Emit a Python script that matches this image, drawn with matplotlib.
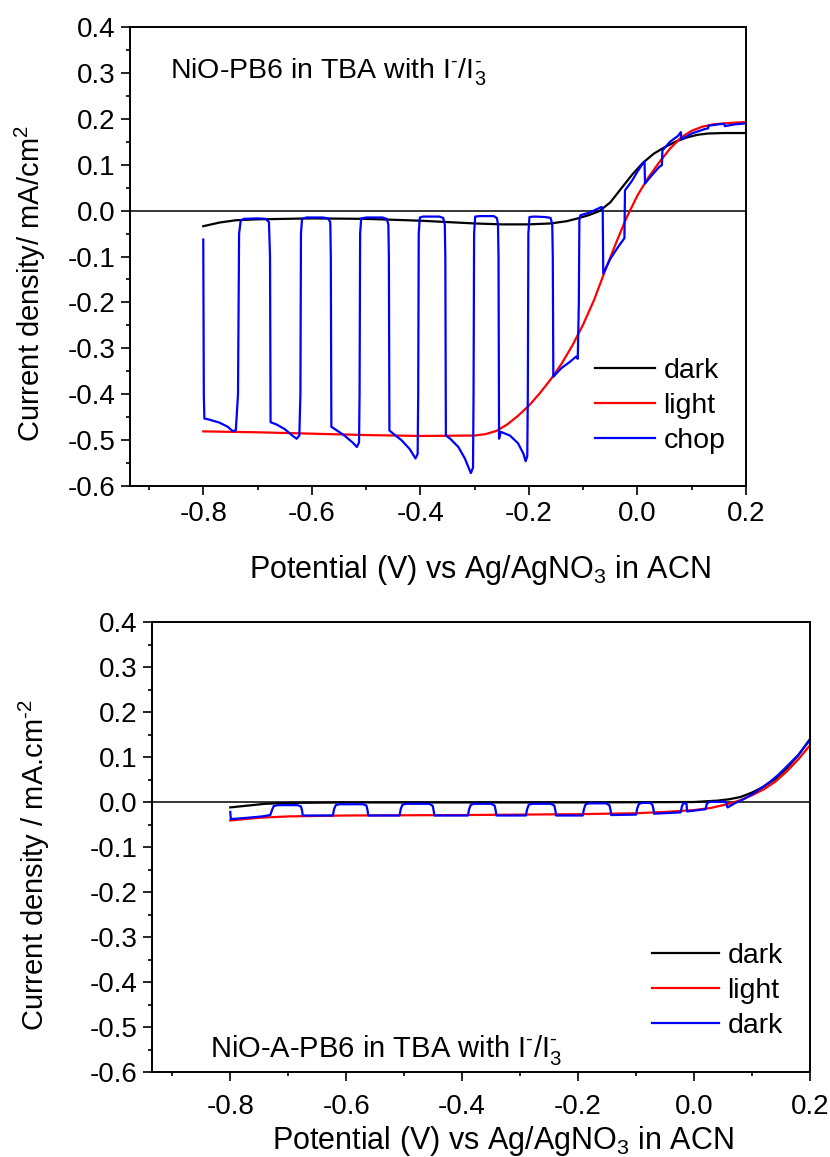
import matplotlib
matplotlib.use("Agg")
import matplotlib.pyplot as plt
from matplotlib.ticker import MultipleLocator, FormatStrFormatter

plt.rcParams['font.family'] = ['Liberation Sans', 'DejaVu Sans']
plt.rcParams['mathtext.fontset'] = 'custom'
plt.rcParams['mathtext.rm'] = 'Liberation Sans'
plt.rcParams['mathtext.it'] = 'Liberation Sans:italic'
plt.rcParams['axes.unicode_minus'] = False

# ---- top panel: NiO-PB6 ----
dark1_x = [-0.80, -0.77, -0.74, -0.70, -0.65, -0.60, -0.50, -0.40, -0.30, -0.25, -0.20,
           -0.16, -0.13, -0.11, -0.09, -0.07, -0.05, -0.03, -0.01, 0.01, 0.03,
           0.05, 0.07, 0.09, 0.11, 0.13, 0.16, 0.20]
dark1_y = [-0.034, -0.026, -0.021, -0.019, -0.018, -0.017, -0.018, -0.022, -0.028, -0.030, -0.030,
           -0.028, -0.023, -0.017, -0.010, -0.001, 0.018, 0.048, 0.078, 0.104, 0.124,
           0.138, 0.150, 0.159, 0.165, 0.168, 0.169, 0.169]

light1_x = [-0.80, -0.70, -0.60, -0.50, -0.40, -0.30, -0.28, -0.26, -0.24, -0.22, -0.20,
            -0.18, -0.16, -0.14, -0.12, -0.10, -0.08, -0.06, -0.04, -0.02, 0.00,
            0.02, 0.04, 0.06, 0.08, 0.10, 0.12, 0.14, 0.17, 0.20]
light1_y = [-0.481, -0.483, -0.486, -0.489, -0.491, -0.490, -0.487, -0.480, -0.466, -0.447, -0.425,
            -0.398, -0.368, -0.334, -0.294, -0.248, -0.195, -0.132, -0.072, -0.015, 0.033,
            0.072, 0.105, 0.135, 0.159, 0.174, 0.183, 0.188, 0.191, 0.193]

chop1_x = [-0.800, -0.799, -0.798,
           -0.790, -0.770, -0.755, -0.745, -0.740,
           -0.736, -0.734, -0.731, -0.725, -0.700, -0.685, -0.679, -0.677,
           -0.676, -0.665, -0.650, -0.635, -0.628, -0.623,
           -0.621, -0.620, -0.618, -0.610, -0.580, -0.570, -0.566, -0.565,
           -0.564, -0.555, -0.540, -0.525, -0.517, -0.513,
           -0.512, -0.511, -0.509, -0.500, -0.470, -0.462, -0.459, -0.458,
           -0.457, -0.450, -0.435, -0.420, -0.409, -0.405,
           -0.404, -0.403, -0.401, -0.395, -0.365, -0.358, -0.355, -0.354,
           -0.353, -0.345, -0.330, -0.318, -0.307, -0.303,
           -0.302, -0.301, -0.299, -0.290, -0.265, -0.259, -0.257, -0.256,
           -0.255, -0.252, -0.235, -0.220, -0.210, -0.206, -0.203,
           -0.202, -0.201, -0.199, -0.190, -0.170, -0.160, -0.157, -0.156,
           -0.155, -0.140, -0.125, -0.113, -0.110,
           -0.108, -0.107, -0.105, -0.090, -0.075, -0.066, -0.064,
           -0.063, -0.050, -0.035, -0.027, -0.024,
           -0.023, -0.010, 0.000, 0.010, 0.013,
           0.014, 0.025, 0.040, 0.045,
           0.046, 0.060, 0.075, 0.080,
           0.081, 0.100, 0.125, 0.130,
           0.131, 0.150, 0.160,
           0.161, 0.180, 0.200]
chop1_y = [-0.063, -0.400, -0.453,
           -0.455, -0.462, -0.471, -0.481, -0.478,
           -0.400, -0.050, -0.022, -0.018, -0.017, -0.018, -0.025, -0.100,
           -0.461, -0.466, -0.476, -0.491, -0.497, -0.490,
           -0.400, -0.050, -0.018, -0.015, -0.015, -0.017, -0.025, -0.100,
           -0.471, -0.478, -0.490, -0.505, -0.515, -0.505,
           -0.400, -0.050, -0.017, -0.015, -0.015, -0.018, -0.030, -0.100,
           -0.479, -0.486, -0.500, -0.519, -0.540, -0.530,
           -0.400, -0.050, -0.015, -0.013, -0.013, -0.016, -0.030, -0.100,
           -0.490, -0.497, -0.515, -0.540, -0.572, -0.560,
           -0.400, -0.050, -0.013, -0.012, -0.012, -0.016, -0.030, -0.100,
           -0.497, -0.482, -0.490, -0.507, -0.530, -0.546, -0.535,
           -0.400, -0.050, -0.014, -0.013, -0.014, -0.016, -0.030, -0.100,
           -0.362, -0.343, -0.330, -0.318, -0.323,
           -0.200, -0.020, -0.010, -0.005, 0.003, 0.008, 0.000,
           -0.137, -0.105, -0.078, -0.065, -0.060,
           0.044, 0.065, 0.085, 0.103, 0.107,
           0.059, 0.075, 0.095, 0.099,
           0.131, 0.150, 0.163, 0.171,
           0.155, 0.168, 0.178, 0.179,
           0.185, 0.188, 0.189,
           0.184, 0.188, 0.190]

# ---- bottom panel: NiO-A-PB6 ----
dark2_x = [-0.80, -0.77, -0.74, -0.70, -0.60, -0.40, -0.20, 0.00, 0.04, 0.06, 0.08,
           0.10, 0.12, 0.14, 0.16, 0.18, 0.20]
dark2_y = [-0.012, -0.008, -0.004, -0.002, -0.001, -0.001, -0.001, 0.000, 0.003, 0.006, 0.011,
           0.021, 0.034, 0.051, 0.075, 0.104, 0.140]

light2_x = [-0.80, -0.75, -0.70, -0.60, -0.40, -0.20, -0.10, -0.05, 0.00, 0.03, 0.06,
            0.08, 0.10, 0.12, 0.14, 0.16, 0.18, 0.20]
light2_y = [-0.041, -0.035, -0.032, -0.030, -0.029, -0.027, -0.025, -0.022, -0.018, -0.013, -0.004,
            0.004, 0.015, 0.028, 0.045, 0.068, 0.095, 0.126]

chop2_x = [-0.800, -0.799, -0.770, -0.745, -0.731, -0.728, -0.725, -0.718,
           -0.684, -0.678, -0.676, -0.675,
           -0.623, -0.621, -0.618, -0.612,
           -0.571, -0.565, -0.563, -0.562,
           -0.508, -0.506, -0.503, -0.497,
           -0.457, -0.451, -0.449, -0.448,
           -0.390, -0.388, -0.385, -0.379,
           -0.350, -0.344, -0.342, -0.341,
           -0.290, -0.288, -0.285, -0.279,
           -0.247, -0.241, -0.239, -0.238,
           -0.192, -0.190, -0.187, -0.181,
           -0.152, -0.146, -0.144, -0.143,
           -0.100, -0.098, -0.095, -0.089,
           -0.076, -0.072, -0.070, -0.069,
           -0.023, -0.021, -0.018, -0.013, -0.012,
           0.020, 0.022, 0.026, 0.052, 0.056, 0.057, 0.058,
           0.070, 0.085, 0.100, 0.115, 0.130, 0.145, 0.160, 0.180, 0.200]
chop2_y = [-0.022, -0.038, -0.035, -0.032, -0.029, -0.018, -0.009, -0.007,
           -0.007, -0.010, -0.020, -0.030,
           -0.030, -0.016, -0.007, -0.005,
           -0.005, -0.008, -0.020, -0.030,
           -0.030, -0.016, -0.006, -0.004,
           -0.004, -0.008, -0.020, -0.030,
           -0.030, -0.016, -0.006, -0.004,
           -0.004, -0.008, -0.020, -0.030,
           -0.030, -0.016, -0.006, -0.004,
           -0.004, -0.008, -0.020, -0.030,
           -0.030, -0.016, -0.005, -0.003,
           -0.003, -0.007, -0.018, -0.029,
           -0.028, -0.014, -0.004, -0.002,
           -0.002, -0.006, -0.016, -0.026,
           -0.023, -0.010, -0.002, -0.004, -0.021,
           -0.016, -0.004, 0.000, 0.001, -0.002, -0.010, -0.012,
           -0.003, 0.006, 0.017, 0.030, 0.044, 0.060, 0.079, 0.105, 0.138]

x_range = (-0.935, 0.2)
y_range = (-0.6, 0.4)
ion_text = r"I$^{\text{-}}$/I$_{\text{3}}^{\text{-}}$"
xlabel = r"Potential (V) vs Ag/AgNO$_{\text{3}}$ in ACN"

W, H = 830, 1157
fig = plt.figure(figsize=(W / 100, H / 100), dpi=100)


def make_axes(left, top, right, bottom):
    return fig.add_axes([left / W, 1 - bottom / H, (right - left) / W, (bottom - top) / H])


def style_axes(ax):
    ax.set_xlim(*x_range)
    ax.set_ylim(*y_range)
    ax.xaxis.set_major_locator(MultipleLocator(0.2))
    ax.xaxis.set_minor_locator(MultipleLocator(0.1))
    ax.yaxis.set_major_locator(MultipleLocator(0.1))
    ax.yaxis.set_minor_locator(MultipleLocator(0.05))
    ax.xaxis.set_major_formatter(FormatStrFormatter('%.1f'))
    ax.yaxis.set_major_formatter(FormatStrFormatter('%.1f'))
    ax.set_xticks([-0.8, -0.6, -0.4, -0.2, 0.0, 0.2])
    ax.tick_params(which='both', direction='out', top=False, right=False, width=1.2)
    ax.tick_params(which='major', length=6.5, labelsize=20, pad=4)
    ax.tick_params(which='minor', length=3)
    for s in ax.spines.values():
        s.set_linewidth(1.4)
    ax.axhline(0, color='black', lw=1.1, zorder=1)


# top
ax1 = make_axes(130, 27, 746, 486)
style_axes(ax1)
ax1.plot(dark1_x, dark1_y, color='black', lw=1.6, label='dark')
ax1.plot(light1_x, light1_y, color='#ff0000', lw=1.6, label='light')
ax1.plot(chop1_x, chop1_y, color='#0000ff', lw=1.6, label='chop')
fig.text(170, H - 72, "NiO-PB6 in TBA with " + ion_text, fontsize=20.5,
         transform=None, va='center')
ax1.set_ylabel(r"Current density/ mA/cm$^{\text{2}}$", fontsize=21)
ax1.yaxis.set_label_coords(-0.133, 0.44)
ax1.legend(loc='center left', bbox_to_anchor=((595 - 130) / 616, (486 - 406) / 459),
           frameon=False, fontsize=20.5, handlelength=2.1, handletextpad=0.3,
           labelspacing=0.3, borderpad=0, borderaxespad=0)
fig.text(480 / W, 1 - 570 / H, xlabel, fontsize=22, ha='center', va='center')

# bottom
ax2 = make_axes(152, 622, 810, 1072)
style_axes(ax2)
ax2.plot(dark2_x, dark2_y, color='black', lw=1.6, label='dark')
ax2.plot(light2_x, light2_y, color='#ff0000', lw=1.6, label='light')
ax2.plot(chop2_x, chop2_y, color='#0000ff', lw=1.6, label='dark')
ax2.tick_params(axis='x', which='major', pad=9)
ax2.set_ylabel(r"Current density / mA.cm$^{\text{-2}}$", fontsize=21)
ax2.yaxis.set_label_coords(-0.152, 0.46)
ax2.legend(loc='center left', bbox_to_anchor=((652 - 152) / 658, (1072 - 991) / 450),
           frameon=False, fontsize=20.5, handlelength=2.35, handletextpad=0.3,
           labelspacing=0.3, borderpad=0, borderaxespad=0)
fig.text(210, H - 1050, "NiO-A-PB6 in TBA with " + ion_text, fontsize=21,
         transform=None, va='center')
fig.text(503 / W, 1 - 1141 / H, xlabel, fontsize=22, ha='center', va='center')

fig.savefig("out.png", dpi=100)
